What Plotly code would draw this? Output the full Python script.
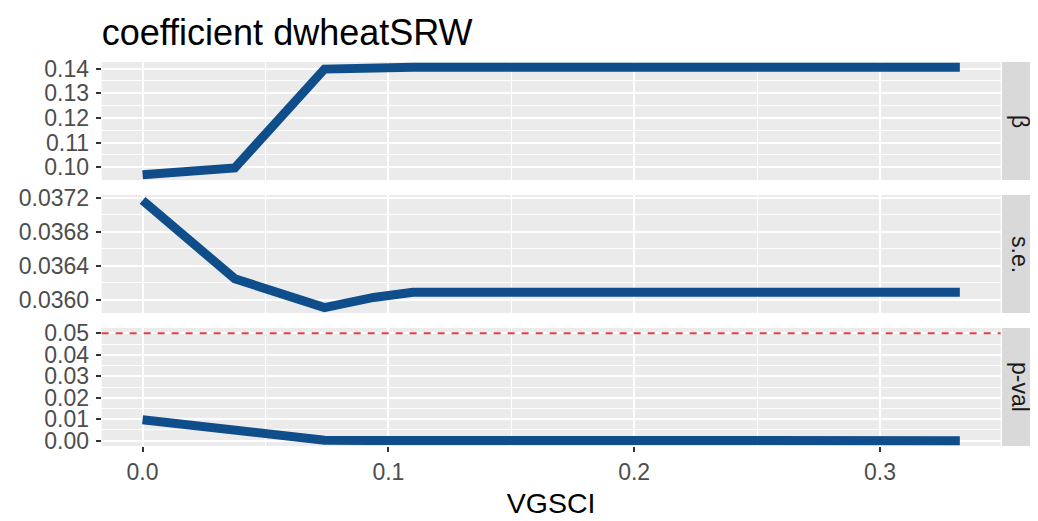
import plotly.graph_objects as go

# ---- data ----
vgsci = [0.0, 0.0375, 0.074, 0.0925, 0.094, 0.11, 0.3325]
beta = [0.0970, 0.0997, 0.1398, 0.1399, 0.1405, 0.1405, 0.1405]
se = [0.03717, 0.03625, 0.03591, 0.03602, 0.03603, 0.03609, 0.03609]
pval = [0.0097, 0.0052, 0.0002, 0.0001, 0.0001, 0.0, 0.0]
p_threshold = 0.05

facet_labels = ["β", "s.e.", "p-val"]
x_ticks = [0.0, 0.1, 0.2, 0.3]
x_ticktext = ["0.0", "0.1", "0.2", "0.3"]
title_text = "coefficient dwheatSRW"
x_title = "VGSCI"

# ---- styling ----
OFF = 8  # browser default body margin
W, H = 1038 - OFF, 521 - OFF
FONT = "Liberation Sans, Arial, sans-serif"
LINE_COLOR = "#104E8B"
PANEL_BG = "#EBEBEB"
STRIP_BG = "#D9D9D9"
px_left, px_right = 101.7 - OFF, 1000.7 - OFF
panels_px = [(62 - OFF, 180 - OFF), (195 - OFF, 313 - OFF), (328 - OFF, 446 - OFF)]
strip_px = (1002 - OFF, 1038 - OFF)


def pad_range(values):
    lo, hi = min(values), max(values)
    span = hi - lo
    return [lo - 0.05 * span, hi + 0.05 * span]


x_range = pad_range(vgsci)
y_ranges = [pad_range(beta), pad_range(se), pad_range(pval + [p_threshold])]
y_major = [0.01, 0.0004, 0.01]
y_fmt = [".2f", ".4f", ".2f"]
series = [beta, se, pval]

fig = go.Figure()
for i, ys in enumerate(series):
    sfx = "" if i == 0 else str(i + 1)
    fig.add_trace(go.Scatter(
        x=vgsci, y=ys, mode="lines",
        line=dict(color=LINE_COLOR, width=9),
        xaxis="x" + sfx, yaxis="y" + sfx, showlegend=False,
        hoverinfo="x+y",
    ))

layout = dict(
    width=W, height=H,
    margin=dict(l=0, r=0, t=0, b=0, autoexpand=False),
    paper_bgcolor="white", plot_bgcolor=PANEL_BG,
    font=dict(family=FONT, color="#4D4D4D", size=23),
    title=dict(text=title_text, x=px_left / W, xanchor="left",
               y=1 - (32 - OFF) / H, yanchor="middle", automargin=False,
               font=dict(family=FONT, size=36, color="black")),
    showlegend=False,
)

shapes = []
annotations = []
for i in range(3):
    sfx = "" if i == 0 else str(i + 1)
    top, bot = panels_px[i]
    ydom = [1 - bot / H, 1 - top / H]
    is_bottom = i == 2
    xa = dict(
        domain=[px_left / W, px_right / W], range=x_range, automargin=False,
        anchor="y" + sfx, showgrid=True, gridcolor="white", gridwidth=1.6,
        tickvals=x_ticks, ticktext=x_ticktext,
        showticklabels=is_bottom, ticks="outside" if is_bottom else "",
        ticklen=5, tickwidth=1.5, tickcolor="#333333",
        minor=dict(dtick=0.05, tick0=0, showgrid=True, gridcolor="white", gridwidth=0.8, ticks=""),
        zeroline=False, showline=False,
        tickfont=dict(size=23, color="#4D4D4D"),
    )
    if i > 0:
        xa["matches"] = "x"
    if is_bottom:
        xa["title"] = dict(text=x_title, font=dict(size=28.5, color="black"), standoff=9)
    ya = dict(
        domain=ydom, range=y_ranges[i], anchor="x" + sfx, automargin=False,
        dtick=y_major[i], tick0=0, tickformat=y_fmt[i],
        showgrid=True, gridcolor="white", gridwidth=1.6,
        minor=dict(dtick=y_major[i] / 2, tick0=0, showgrid=True, gridcolor="white", gridwidth=0.8, ticks=""),
        ticks="outside", ticklen=5, tickwidth=1.5, tickcolor="#333333",
        zeroline=False, showline=False,
        tickfont=dict(size=23, color="#4D4D4D"),
        ticklabelstandoff=2,
    )
    layout["xaxis" + sfx] = xa
    layout["yaxis" + sfx] = ya

    # strip on the right
    shapes.append(dict(type="rect", xref="paper", yref="paper",
                       x0=strip_px[0] / W, x1=strip_px[1] / W,
                       y0=ydom[0], y1=ydom[1],
                       fillcolor=STRIP_BG, line=dict(width=0), layer="below"))
    annotations.append(dict(xref="paper", yref="paper",
                            x=(strip_px[0] + strip_px[1]) / 2 / W, y=(ydom[0] + ydom[1]) / 2,
                            text=facet_labels[i], showarrow=False, textangle=90,
                            xanchor="center", yanchor="middle",
                            font=dict(family=FONT, size=23, color="#1A1A1A")))

# p-value threshold line
shapes.append(dict(type="line", xref="x3 domain", yref="y3",
                   x0=0, x1=1, y0=p_threshold, y1=p_threshold,
                   line=dict(color="rgba(215,45,45,0.9)", width=2, dash="7px,7px")))

layout["shapes"] = shapes
layout["annotations"] = annotations
fig.update_layout(**layout)
fig.write_html("out.html")
